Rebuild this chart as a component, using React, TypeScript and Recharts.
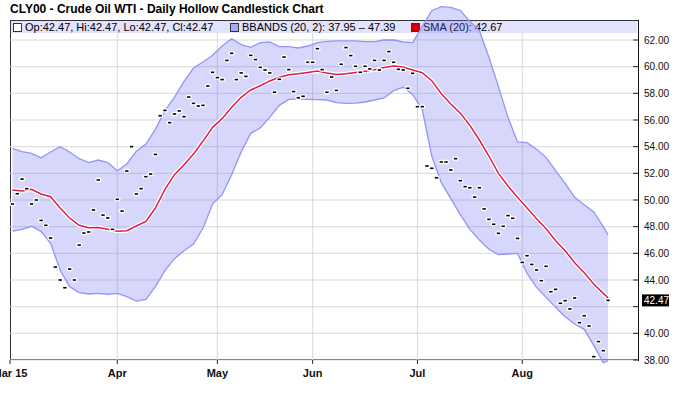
import React from "react";
import {
  Area,
  CartesianGrid,
  ComposedChart,
  Line,
  ReferenceLine,
  Scatter,
  XAxis,
  YAxis,
} from "recharts";

// CLY00 daily closes, trading days from Mar 2 2015 to Aug 27 2015
const closes = [
  49.7, 50.47, 51.57, 50.85, 49.7, 50.0, 48.47, 48.1, 47.15, 44.97,
  44.0, 43.42, 44.82, 44.0, 46.62, 47.52, 47.6, 49.25, 51.5, 48.87,
  48.65, 47.8, 50.05, 49.17, 52.17, 54.0, 50.45, 50.85, 51.75, 51.95,
  53.42, 56.32, 56.72, 55.8, 56.45, 56.68, 56.25, 57.72, 57.25, 57.05,
  57.1, 58.55, 59.58, 59.18, 59.03, 60.47, 61.0, 59.03, 59.53, 59.27,
  60.85, 60.53, 59.95, 59.75, 59.53, 58.08, 59.05, 60.72, 59.78, 58.13,
  57.67, 57.78, 60.33, 60.33, 61.35, 59.78, 58.08, 59.22, 58.22, 60.18,
  61.43, 60.83, 60.03, 59.58, 60.03, 59.83, 60.47, 59.75, 60.47, 61.13,
  60.33, 59.8, 59.75, 58.38, 59.5, 57.0, 57.0, 52.55, 52.38, 51.67,
  52.85, 52.85, 52.25, 53.1, 51.45, 51.0, 50.92, 50.22, 50.92, 49.33,
  48.55, 48.18, 47.5, 48.03, 48.83, 48.63, 47.12, 45.32, 45.82, 45.17,
  44.75, 43.95, 45.03, 43.12, 43.3, 42.25, 42.45, 41.83, 42.65, 40.8,
  41.32, 40.55, 38.25, 39.38, 38.7, 42.47,
];

// indicator readings, every second trading day plus the last one
const bandDays = [
  0, 2, 4, 6, 8, 10, 12, 14, 16, 18, 20, 22, 24, 26, 28, 30, 32, 34, 36, 38,
  40, 42, 44, 46, 48, 50, 52, 54, 56, 58, 60, 62, 64, 66, 68, 70, 72, 74, 76,
  78, 80, 82, 84, 86, 88, 90, 92, 94, 96, 98, 100, 102, 104, 106, 108, 110,
  112, 114, 116, 118, 120, 122, 124, 125,
];

const upperBand = [
  53.88, 53.63, 53.5, 53.17, 53.6, 54.0, 53.6, 53.1, 52.8, 53.0,
  52.8, 52.2, 52.7, 53.65, 54.2, 55.3, 56.7, 57.7, 58.9, 59.9,
  60.35, 60.85, 61.55, 62.1, 61.65, 61.45, 61.8, 61.85, 61.5, 61.5,
  61.4, 61.55, 61.8, 61.9, 61.93, 61.93, 61.93, 61.88, 61.88, 62.0,
  62.0, 61.85, 61.8, 63.0, 64.2, 64.5, 64.45, 64.2, 63.4, 62.7,
  60.7, 58.5, 56.2, 54.35, 54.3, 53.8, 53.2, 52.2, 51.25, 50.2,
  49.65, 49.1, 48.0, 47.39,
];

const smaLine = [
  50.75, 50.68, 50.8, 50.45, 50.25, 49.4, 48.65, 48.1, 47.92, 47.93,
  47.8, 47.65, 47.7, 48.05, 48.4, 49.4, 50.8, 51.9, 52.65, 53.45,
  54.42, 55.45, 56.1, 56.95, 57.7, 58.25, 58.57, 58.93, 59.2, 59.4,
  59.47, 59.57, 59.68, 59.52, 59.42, 59.47, 59.57, 59.66, 59.77, 59.93,
  60.05, 59.97, 59.75, 59.55, 58.95, 57.97, 57.2, 56.5, 55.6, 54.5,
  53.3, 52.0, 51.05, 50.2, 49.4, 48.6, 47.85, 46.95, 46.2, 45.3,
  44.55, 43.7, 43.0, 42.67,
];

const lowerBand = [
  47.67, 47.8, 48.03, 47.65, 46.75, 44.75, 43.5, 43.05, 42.95, 43.0,
  42.93, 43.0, 42.75, 42.42, 42.55, 43.5, 44.7, 45.6, 46.2, 46.7,
  47.9, 49.7, 50.4, 51.9, 53.6, 55.0, 55.4, 56.2, 57.1, 57.55,
  57.58, 57.55, 57.53, 57.5, 57.3, 57.25, 57.27, 57.35, 57.5, 57.65,
  58.2, 58.45, 57.9, 56.8, 53.3, 51.3, 50.1, 48.9, 47.8, 47.0,
  46.3, 45.9, 45.95, 46.0, 44.5, 43.45, 42.7, 41.95, 41.25, 40.7,
  40.3, 39.1, 37.8, 37.95,
];

const monthTicks = [-0.52, 22, 43, 63, 85, 107];
const monthLabels = ["Mar 15", "Apr", "May", "Jun", "Jul", "Aug"];
const priceTicks = [38, 40, 42, 44, 46, 48, 50, 52, 54, 56, 58, 60, 62];
const lastClose = 42.47;

const candleData = closes.map((c, i) => ({ day: i, close: c }));
const bandData = bandDays.map((d, k) => ({
  day: d,
  band: [lowerBand[k], upperBand[k]],
  sma: smaLine[k],
}));

const FONT = '"Liberation Sans", Arial, sans-serif';

// open = high = low = close, so each hollow candle is only a tiny dash
function Dash(props: any) {
  const { cx, cy } = props;
  return (
    <g>
      <rect x={cx - 3.2} y={cy - 2.2} width={6.4} height={4.4} rx={2.2} fill="#fff" />
      <rect x={cx - 1.7} y={cy - 0.8} width={3.4} height={1.6} fill="#000" />
    </g>
  );
}

function MonthTick(props: any) {
  const { x, index } = props;
  return (
    <g>
      <line x1={x} x2={x} y1={360} y2={364} stroke="#222" />
      <text
        x={x}
        y={377}
        textAnchor="middle"
        fontFamily={FONT}
        fontWeight="bold"
        fontSize={11}
        fill="#111"
      >
        {monthLabels[index]}
      </text>
    </g>
  );
}

function PriceTick(props: any) {
  const { x, y, payload } = props;
  const v = payload.value as number;
  return (
    <g>
      <line x1={x - 6} x2={x} y1={y} y2={y} stroke="#222" />
      {v !== 42 && (
        <text x={x + 5} y={y + 3.5} fontFamily={FONT} fontSize={10} fill="#111">
          {v.toFixed(2)}
        </text>
      )}
    </g>
  );
}

function PriceTag(props: any) {
  const { viewBox } = props;
  const x = viewBox.x + viewBox.width + 3;
  const y = viewBox.y;
  return (
    <g>
      <rect x={x} y={y - 6} width={27} height={12} fill="#000" />
      <text x={x + 2} y={y + 3.5} fontFamily={FONT} fontSize={10} fill="#fff">
        {lastClose.toFixed(2)}
      </text>
    </g>
  );
}

function Swatch({ color, border }: { color: string; border: string }) {
  return (
    <span
      style={{
        display: "inline-block",
        width: 7,
        height: 7,
        background: color,
        border: `1px solid ${border}`,
        marginRight: 3,
        verticalAlign: "-1px",
      }}
    />
  );
}

export default function App() {
  return (
    <div
      style={{
        position: "absolute",
        left: 0,
        top: 0,
        width: 680,
        height: 399,
        background: "#fff",
        overflow: "hidden",
        fontFamily: FONT,
      }}
    >
      <div
        style={{
          position: "absolute",
          left: 10,
          top: 2,
          fontSize: 12,
          fontWeight: "bold",
          color: "#000",
          whiteSpace: "nowrap",
        }}
      >
        CLY00 - Crude Oil WTI - Daily Hollow Candlestick Chart
      </div>
      <div
        style={{
          position: "absolute",
          left: 10,
          top: 20,
          width: 629,
          height: 340,
          boxSizing: "border-box",
          border: "1px solid #333",
        }}
      />
      <div
        style={{
          position: "absolute",
          left: 11,
          top: 21,
          width: 626,
          height: 12,
          background: "#e2e2fd",
          fontSize: 11,
          lineHeight: "12px",
          color: "#000",
          whiteSpace: "nowrap",
        }}
      >
        <span style={{ position: "absolute", left: 2 }}>
          <Swatch color="#fff" border="#333" />
          Op:42.47, Hi:42.47, Lo:42.47, Cl:42.47
        </span>
        <span style={{ position: "absolute", left: 219 }}>
          <Swatch color="#a9a9f7" border="#333" />
          BBANDS (20, 2): 37.95 – 47.39
        </span>
        <span style={{ position: "absolute", left: 400 }}>
          <Swatch color="#d00000" border="#333" />
          SMA (20): 42.67
        </span>
      </div>
      <div style={{ position: "absolute", left: 0, top: 0 }}>
        <ComposedChart
          width={680}
          height={399}
          margin={{ top: 0, right: 0, bottom: 0, left: 10 }}
        >
          <CartesianGrid
            x={10}
            y={33}
            width={629}
            height={327}
            stroke="#d9d9d9"
            horizontalValues={priceTicks}
            verticalValues={monthTicks.slice(1)}
          />
          <XAxis
            type="number"
            dataKey="day"
            domain={[-0.52, 131.5]}
            ticks={monthTicks}
            tick={<MonthTick />}
            height={19}
            axisLine={false}
            tickLine={false}
            interval={0}
          />
          <YAxis
            orientation="right"
            type="number"
            domain={[36.5, 65]}
            ticks={priceTicks}
            tick={<PriceTick />}
            width={41}
            axisLine={false}
            tickLine={false}
            tickSize={0}
            tickMargin={0}
            interval={0}
          />
          <Area
            data={bandData}
            dataKey="band"
            type="linear"
            fill="#6f6ff5"
            fillOpacity={0.28}
            stroke="#9494f6"
            strokeWidth={1.3}
            isAnimationActive={false}
          />
          <Line
            data={bandData}
            dataKey="sma"
            type="linear"
            stroke="#ffffff"
            strokeWidth={4}
            dot={false}
            activeDot={false}
            isAnimationActive={false}
          />
          <Line
            data={bandData}
            dataKey="sma"
            type="linear"
            stroke="#dc1e46"
            strokeWidth={1.5}
            dot={false}
            activeDot={false}
            isAnimationActive={false}
          />
          <Scatter
            data={candleData}
            dataKey="close"
            shape={<Dash />}
            isAnimationActive={false}
          />
          <ReferenceLine
            y={lastClose}
            stroke="none"
            ifOverflow="visible"
            label={<PriceTag />}
          />
        </ComposedChart>
      </div>
      <div
        style={{
          position: "absolute",
          left: 638,
          top: 20,
          width: 1,
          height: 341,
          background: "#111",
        }}
      />
    </div>
  );
}
